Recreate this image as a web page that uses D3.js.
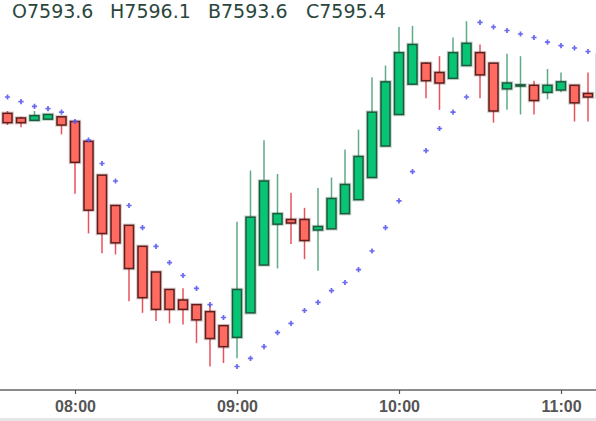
<!DOCTYPE html>
<html>
<head>
<meta charset="utf-8">
<script src="https://cdn.jsdelivr.net/npm/d3@7"></script>
<style>
  html, body { margin: 0; padding: 0; background: #fff; }
  svg { display: block; }
</style>
</head>
<body>
<svg id="chart" width="596" height="421"></svg>
<script>
// 5 minute bars
const times = [
  "07:35", "07:40", "07:45", "07:50", "07:55",
  "08:00", "08:05", "08:10", "08:15", "08:20", "08:25", "08:30", "08:35", "08:40", "08:45", "08:50", "08:55",
  "09:00", "09:05", "09:10", "09:15", "09:20", "09:25", "09:30", "09:35", "09:40", "09:45", "09:50", "09:55",
  "10:00", "10:05", "10:10", "10:15", "10:20", "10:25", "10:30", "10:35", "10:40", "10:45", "10:50", "10:55",
  "11:00", "11:05", "11:10", "11:15"
];
const opens = [
  7592.9, 7592.7, 7592.6, 7592.65, 7592.75,
  7592.55, 7591.7, 7590.25, 7588.95, 7588.1, 7587.2, 7586.1, 7585.35, 7584.9, 7584.7, 7584.4, 7583.8,
  7583.3, 7584.35, 7586.4, 7588.15, 7588.35, 7588.35, 7587.9, 7587.95, 7588.6, 7589.2, 7590.15, 7591.5,
  7592.85, 7594.15, 7595.05, 7594.65, 7594.4, 7594.95, 7595.5, 7595.05, 7593.95, 7594.07, 7594.1, 7593.8,
  7593.9, 7594.1, 7593.75, 7593.6
];
const highs = [
  7593.0, 7592.75, 7593.0, 7592.85, 7592.75,
  7592.6, 7591.7, 7590.25, 7588.95, 7588.1, 7587.2, 7586.1, 7585.35, 7585.4, 7584.7, 7584.7, 7583.8,
  7588.25, 7590.45, 7591.75, 7590.3, 7589.5, 7588.85, 7589.7, 7590.15, 7591.35, 7592.2, 7594.45, 7594.95,
  7596.6, 7596.65, 7595.1, 7595.35, 7596.15, 7596.85, 7595.85, 7595.05, 7595.45, 7595.35, 7594.3, 7594.8,
  7594.65, 7594.1, 7594.65, 7596.1
];
const lows = [
  7592.4, 7592.3, 7592.6, 7592.65, 7592.0,
  7589.45, 7587.75, 7586.9, 7586.85, 7584.85, 7584.35, 7584.0, 7583.9, 7583.85, 7583.05, 7582.05, 7582.2,
  7582.4, 7584.35, 7586.4, 7586.25, 7587.3, 7586.65, 7586.15, 7587.95, 7588.6, 7589.2, 7590.15, 7591.5,
  7592.85, 7594.15, 7593.55, 7593.05, 7594.4, 7594.95, 7593.55, 7592.5, 7593.05, 7592.85, 7592.85, 7593.5,
  7593.8, 7592.55, 7592.55, 7593.6
];
const closes = [
  7592.5, 7592.5, 7592.8, 7592.85, 7592.4,
  7590.8, 7588.75, 7587.75, 7587.35, 7586.25, 7585.0, 7584.5, 7584.5, 7584.5, 7584.05, 7583.25, 7582.9,
  7585.35, 7588.45, 7590.0, 7588.6, 7588.2, 7587.45, 7588.05, 7589.25, 7589.85, 7591.05, 7592.95, 7594.25,
  7595.5, 7595.85, 7594.3, 7594.2, 7595.5, 7595.9, 7594.55, 7593.0, 7594.2, 7594.12, 7593.45, 7594.1,
  7594.25, 7593.35, 7593.6, 7595.4
];
// parabolic SAR
const sar = [
  7593.6, 7593.4, 7593.2, 7593.1, 7592.95,
  7592.55, 7591.75, 7590.75, 7590.0, 7588.95, 7588.0, 7587.2, 7586.5, 7585.95, 7585.4, 7584.7, 7584.15,
  7582.05, 7582.4, 7582.9, 7583.5, 7583.9, 7584.45, 7584.8, 7585.3, 7585.65, 7586.2, 7587.0, 7588.0,
  7589.15, 7590.4, 7591.3, 7592.25, 7592.95, 7593.6, 7596.8, 7596.6, 7596.45, 7596.3, 7596.15, 7595.95,
  7595.8, 7595.7, 7595.55, 7595.4
];
const headerLabels = ["O", "H", "B", "C"];

const width = 596, height = 421;
const axisY = 390;

const parseTime = d3.timeParse("%H:%M");
const bars = times.map((t, i) => ({
  date: parseTime(t),
  open: opens[i], high: highs[i], low: lows[i], close: closes[i], sar: sar[i]
}));

const svg = d3.select("#chart");

// scales
const x = d3.scaleTime()
  .domain([parseTime("08:00"), parseTime("11:00")])
  .range([75, 561]);
const y = d3.scaleLinear()
  .domain([7593.6, 7595.4])
  .range([97, 55]);

const upFill = "#08c576", upStroke = "#1d5a3c", upWick = "#5fab86";
const downFill = "#ff6b61", downStroke = "#5e1e1c", downWick = "#e8525c";
const bodyW = 9;

// wicks
const candles = svg.append("g");
candles.selectAll("line.wick")
  .data(bars)
  .enter().append("line")
  .attr("class", "wick")
  .attr("x1", d => x(d.date))
  .attr("x2", d => x(d.date))
  .attr("y1", d => y(d.high))
  .attr("y2", d => y(d.low))
  .attr("stroke", d => d.close >= d.open ? upWick : downWick)
  .attr("stroke-width", 1.5);

// soft halo round the bodies
candles.selectAll("rect.halo")
  .data(bars)
  .enter().append("rect")
  .attr("class", "halo")
  .attr("x", d => x(d.date) - bodyW / 2)
  .attr("y", d => y(Math.max(d.open, d.close)))
  .attr("width", bodyW)
  .attr("height", d => Math.max(1, Math.abs(y(d.open) - y(d.close))))
  .attr("fill", "none")
  .attr("stroke", d => d.close >= d.open ? upStroke : downStroke)
  .attr("stroke-opacity", 0.25)
  .attr("stroke-width", 3.5);

candles.selectAll("rect.body")
  .data(bars)
  .enter().append("rect")
  .attr("class", "body")
  .attr("x", d => x(d.date) - bodyW / 2)
  .attr("y", d => y(Math.max(d.open, d.close)))
  .attr("width", bodyW)
  .attr("height", d => Math.max(1, Math.abs(y(d.open) - y(d.close))))
  .attr("fill", d => d.close >= d.open ? upFill : downFill)
  .attr("stroke", d => d.close >= d.open ? upStroke : downStroke)
  .attr("stroke-width", 1.5);

// SAR crosses
svg.append("g")
  .selectAll("path")
  .data(bars)
  .enter().append("path")
  .attr("transform", d => `translate(${x(d.date)},${y(d.sar)})`)
  .attr("d", d3.symbol().type(d3.symbolCross).size(15))
  .attr("fill", "#5a5af0")
  .attr("fill-opacity", 0.9);

// x axis
svg.append("rect")
  .attr("x", 0).attr("y", 418)
  .attr("width", width).attr("height", 3)
  .attr("fill", "#e6e6e6");

svg.append("line")
  .attr("x1", 0).attr("x2", width)
  .attr("y1", axisY).attr("y2", axisY)
  .attr("stroke", "#666")
  .attr("stroke-width", 1.5);

const xAxis = svg.append("g")
  .attr("transform", `translate(0,${axisY})`)
  .call(d3.axisBottom(x)
    .ticks(d3.timeHour.every(1))
    .tickFormat(d3.timeFormat("%H:%M"))
    .tickSize(4)
    .tickPadding(7));
xAxis.select(".domain").remove();
xAxis.selectAll(".tick line").attr("stroke", "#555").attr("stroke-width", 1.2);
xAxis.selectAll(".tick text")
  .attr("fill", "#555")
  .style("font", "bold 16px 'Liberation Sans', Arial, sans-serif");

// header with last bar values
const last = bars[bars.length - 1];
const headerVals = [last.open, last.high, last.low, last.close];
svg.append("g")
  .selectAll("text")
  .data(headerLabels)
  .enter().append("text")
  .attr("x", (d, i) => 12 + i * 98)
  .attr("y", 18)
  .attr("fill", "#2b473d")
  .style("font", "19px 'DejaVu Sans', sans-serif")
  .text((d, i) => d + headerVals[i].toFixed(1));
</script>
</body>
</html>
